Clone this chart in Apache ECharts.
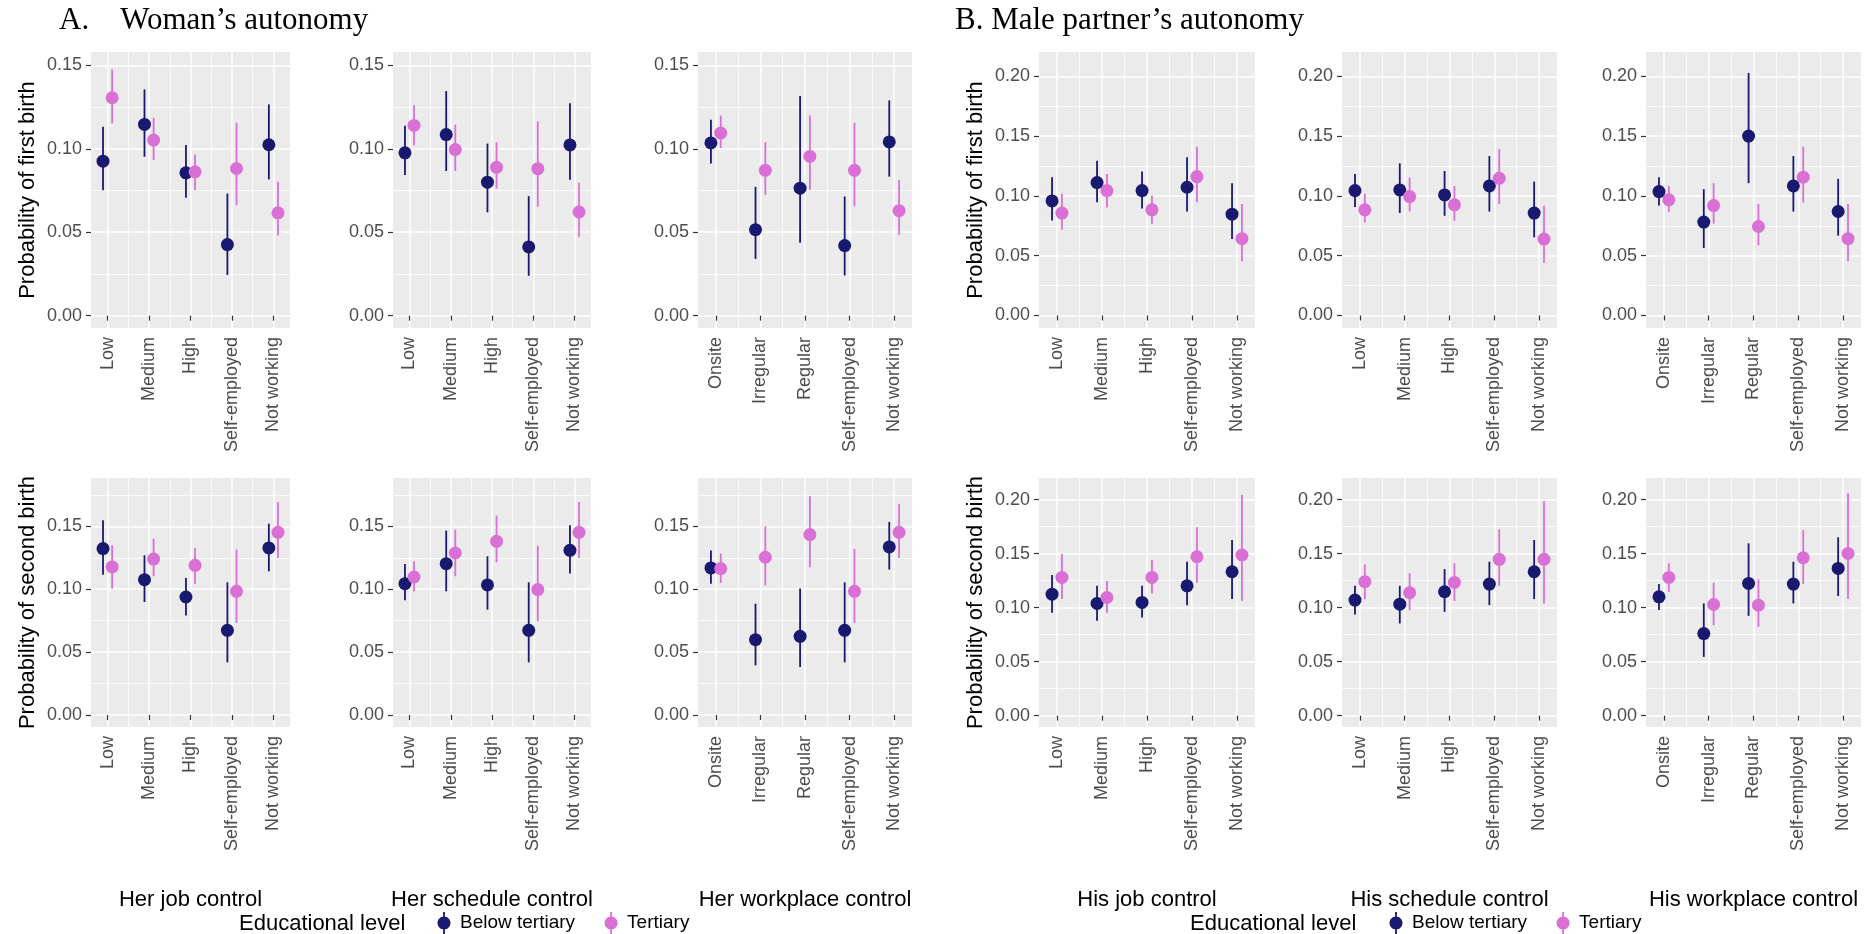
<!DOCTYPE html>
<html>
<head>
<meta charset="utf-8">
<script src="https://cdn.jsdelivr.net/npm/echarts@6/dist/echarts.min.js"></script>
<style>
  html, body { margin: 0; padding: 0; background: #fff; }
  #chart { width: 1876px; height: 934px; }
</style>
</head>
<body>
<div id="chart"></div>
<script>
// categories
const jobCats = ['Low', 'Medium', 'High', 'Self-employed', 'Not working'];
const placeCats = ['Onsite', 'Irregular', 'Regular', 'Self-employed', 'Not working'];
const yTicksA = [0, 0.05, 0.10, 0.15];
const yTicksB = [0, 0.05, 0.10, 0.15, 0.20];

// [estimate, lower, upper] per category
// first birth
const herJob1Below = [[0.0926, 0.0752, 0.1132], [0.1146, 0.0952, 0.1356], [0.0856, 0.0706, 0.1022], [0.0426, 0.0244, 0.0732], [0.1024, 0.0816, 0.1266]];
const herJob1Tert = [[0.1306, 0.1152, 0.1476], [0.1052, 0.0932, 0.1186], [0.0862, 0.0752, 0.0966], [0.0882, 0.0662, 0.1156], [0.0616, 0.048, 0.0802]];
const herSched1Below = [[0.0976, 0.0843, 0.1138], [0.1085, 0.0867, 0.1346], [0.080, 0.0619, 0.1031], [0.0412, 0.0239, 0.0716], [0.1023, 0.0815, 0.1273]];
const herSched1Tert = [[0.114, 0.1021, 0.1263], [0.0995, 0.0867, 0.1144], [0.0889, 0.0762, 0.1039], [0.0881, 0.0653, 0.1164], [0.0621, 0.0473, 0.0796]];
const herPlace1Below = [[0.1035, 0.0912, 0.1174], [0.0515, 0.034, 0.0772], [0.0764, 0.0437, 0.1316], [0.042, 0.0241, 0.0714], [0.1041, 0.0833, 0.129]];
const herPlace1Tert = [[0.1094, 0.1005, 0.1199], [0.0871, 0.0724, 0.1039], [0.0954, 0.0754, 0.1199], [0.0871, 0.0655, 0.1156], [0.0629, 0.0483, 0.0813]];
const hisJob1Below = [[0.0958, 0.0794, 0.1156], [0.1111, 0.0947, 0.1294], [0.1044, 0.0894, 0.1203], [0.1072, 0.0869, 0.1322], [0.0847, 0.0639, 0.1106]];
const hisJob1Tert = [[0.0856, 0.0717, 0.1017], [0.1044, 0.0903, 0.1183], [0.0883, 0.0767, 0.1003], [0.1161, 0.0947, 0.1411], [0.0642, 0.0453, 0.0931]];
const hisSched1Below = [[0.1044, 0.0906, 0.1183], [0.105, 0.0856, 0.1272], [0.1008, 0.0833, 0.1208], [0.1083, 0.0869, 0.1333], [0.0856, 0.0653, 0.1119]];
const hisSched1Tert = [[0.0883, 0.0778, 0.1017], [0.0994, 0.0869, 0.1153], [0.0925, 0.0792, 0.1083], [0.1147, 0.0931, 0.1392], [0.0639, 0.0439, 0.0917]];
const hisPlace1Below = [[0.1036, 0.0919, 0.1156], [0.0781, 0.0564, 0.1056], [0.15, 0.1106, 0.2028], [0.1083, 0.0869, 0.1333], [0.0869, 0.0667, 0.1142]];
const hisPlace1Tert = [[0.0967, 0.0867, 0.1083], [0.0919, 0.0767, 0.1106], [0.0744, 0.0586, 0.0931], [0.1156, 0.0944, 0.1411], [0.0642, 0.0453, 0.0931]];
// second birth
const herJob2Below = [[0.1323, 0.1116, 0.1548], [0.1076, 0.0898, 0.127], [0.0938, 0.0792, 0.1089], [0.0673, 0.0419, 0.1055], [0.1328, 0.1142, 0.1521]];
const herJob2Tert = [[0.1177, 0.1005, 0.1349], [0.124, 0.1103, 0.1402], [0.119, 0.1044, 0.1328], [0.0983, 0.0732, 0.1315], [0.1452, 0.1248, 0.1694]];
const herSched2Below = [[0.1044, 0.0912, 0.1201], [0.1203, 0.0983, 0.1466], [0.1034, 0.0838, 0.1262], [0.0673, 0.0419, 0.1055], [0.1309, 0.1124, 0.1508]];
const herSched2Tert = [[0.1097, 0.0983, 0.1222], [0.1288, 0.1103, 0.1474], [0.1381, 0.1214, 0.1585], [0.0997, 0.0745, 0.1346], [0.1452, 0.1248, 0.1694]];
const herPlace2Below = [[0.1169, 0.1044, 0.1307], [0.0599, 0.0395, 0.0885], [0.0626, 0.0382, 0.1005], [0.0673, 0.0419, 0.1055], [0.1336, 0.1156, 0.1535]];
const herPlace2Tert = [[0.1164, 0.105, 0.1283], [0.1254, 0.1031, 0.15], [0.1434, 0.1174, 0.1739], [0.0983, 0.0732, 0.132], [0.1452, 0.1248, 0.168]];
const hisJob2Below = [[0.1125, 0.0952, 0.1301], [0.1039, 0.0878, 0.1202], [0.1048, 0.0909, 0.1202], [0.1202, 0.1023, 0.1425], [0.1332, 0.1079, 0.1626]];
const hisJob2Tert = [[0.128, 0.1079, 0.1496], [0.1094, 0.0952, 0.1246], [0.128, 0.1131, 0.1441], [0.1471, 0.123, 0.1743], [0.1487, 0.1063, 0.2043]];
const hisSched2Below = [[0.107, 0.0937, 0.1202], [0.1032, 0.0853, 0.1202], [0.1147, 0.0961, 0.1357], [0.1218, 0.1023, 0.1425], [0.1332, 0.1079, 0.1626]];
const hisSched2Tert = [[0.124, 0.1079, 0.14], [0.1138, 0.0977, 0.1317], [0.1233, 0.1063, 0.141], [0.1447, 0.1202, 0.1725], [0.1447, 0.1039, 0.1988]];
const hisPlace2Below = [[0.11, 0.0977, 0.1218], [0.076, 0.0544, 0.1039], [0.1224, 0.0924, 0.1595], [0.1218, 0.1039, 0.1425], [0.1363, 0.1107, 0.1651]];
const hisPlace2Tert = [[0.128, 0.1147, 0.141], [0.1029, 0.0838, 0.123], [0.1023, 0.0822, 0.1261], [0.1462, 0.1218, 0.1719], [0.1502, 0.1079, 0.2059]];

const NAVY = '#191970';
const ORCHID = '#DA70D6';
const FONT = 'Liberation Sans';

// panel layout (px)
const colLeft = [91, 393, 698, 1039, 1342, 1646];
const colWidth = [199, 198, 214, 216, 215, 215];
const rowTop = [52, 478];
const rowHeight = [276, 249];

const panels = [
  { row: 0, col: 0, cats: jobCats, below: herJob1Below, tert: herJob1Tert, yr: [-0.0074, 0.158], ticks: yTicksA, yName: 'Probability of first birth' },
  { row: 0, col: 1, cats: jobCats, below: herSched1Below, tert: herSched1Tert, yr: [-0.0074, 0.158], ticks: yTicksA },
  { row: 0, col: 2, cats: placeCats, below: herPlace1Below, tert: herPlace1Tert, yr: [-0.0074, 0.158], ticks: yTicksA },
  { row: 0, col: 3, cats: jobCats, below: hisJob1Below, tert: hisJob1Tert, yr: [-0.0105, 0.2203], ticks: yTicksB, yName: 'Probability of first birth' },
  { row: 0, col: 4, cats: jobCats, below: hisSched1Below, tert: hisSched1Tert, yr: [-0.0105, 0.2203], ticks: yTicksB },
  { row: 0, col: 5, cats: placeCats, below: hisPlace1Below, tert: hisPlace1Tert, yr: [-0.0105, 0.2203], ticks: yTicksB },
  { row: 1, col: 0, cats: jobCats, below: herJob2Below, tert: herJob2Tert, yr: [-0.0095, 0.1884], ticks: yTicksA, yName: 'Probability of second birth', xName: 'Her job control' },
  { row: 1, col: 1, cats: jobCats, below: herSched2Below, tert: herSched2Tert, yr: [-0.0095, 0.1884], ticks: yTicksA, xName: 'Her schedule control' },
  { row: 1, col: 2, cats: placeCats, below: herPlace2Below, tert: herPlace2Tert, yr: [-0.0095, 0.1884], ticks: yTicksA, xName: 'Her workplace control' },
  { row: 1, col: 3, cats: jobCats, below: hisJob2Below, tert: hisJob2Tert, yr: [-0.0105, 0.22], ticks: yTicksB, yName: 'Probability of second birth', xName: 'His job control' },
  { row: 1, col: 4, cats: jobCats, below: hisSched2Below, tert: hisSched2Tert, yr: [-0.0105, 0.22], ticks: yTicksB, xName: 'His schedule control' },
  { row: 1, col: 5, cats: placeCats, below: hisPlace2Below, tert: hisPlace2Tert, yr: [-0.0105, 0.22], ticks: yTicksB, xName: 'His workplace control' }
];

const xMajor = [1, 2, 3, 4, 5];
const xMinor = [1.5, 2.5, 3.5, 4.5];
const DODGE = 0.11;

function minorOf(ticks, max) {
  const out = [];
  for (let i = 0; i < ticks.length; i++) {
    const m = ticks[i] + 0.025;
    if (m < max) out.push(m);
  }
  return out;
}

function makeRender(color) {
  return function (params, api) {
    const x = api.value(0);
    const p = api.coord([x, api.value(1)]);
    const lo = api.coord([x, api.value(2)]);
    const hi = api.coord([x, api.value(3)]);
    return {
      type: 'group',
      children: [
        { type: 'line', shape: { x1: lo[0], y1: lo[1], x2: hi[0], y2: hi[1] }, style: { stroke: color, lineWidth: 1.8 } },
        { type: 'circle', shape: { cx: p[0], cy: p[1], r: 6.5 }, style: { fill: color } }
      ]
    };
  };
}

const grids = [], xAxes = [], yAxes = [], series = [];
panels.forEach(function (pn, i) {
  grids.push({
    left: colLeft[pn.col], top: rowTop[pn.row], width: colWidth[pn.col], height: rowHeight[pn.row],
    show: true, backgroundColor: '#EBEBEB', borderWidth: 0
  });
  const cats = pn.cats;
  xAxes.push({
    type: 'value', gridIndex: i, min: 0.6, max: 5.4, position: 'bottom',
    axisLine: { show: false },
    axisTick: { show: true, customValues: xMajor, length: 5, lineStyle: { color: '#333', width: 1.2 } },
    axisLabel: { customValues: xMajor, rotate: 90, margin: 9, fontSize: 18, color: '#4D4D4D', fontFamily: FONT,
      formatter: function (v) { return cats[Math.round(v) - 1]; } },
    splitLine: { show: true, lineStyle: { color: '#fff', width: 1.5 } },
    name: pn.xName || '', nameLocation: 'middle', nameGap: 162,
    nameTextStyle: { fontSize: 22, color: '#000', fontFamily: FONT }
  });
  xAxes.push({
    type: 'value', gridIndex: i, min: 0.6, max: 5.4, position: 'top',
    axisLine: { show: false },
    axisTick: { show: false, customValues: xMinor },
    axisLabel: { show: false, customValues: xMinor },
    splitLine: { show: true, lineStyle: { color: '#fff', width: 0.8 } }
  });
  yAxes.push({
    type: 'value', gridIndex: i, min: pn.yr[0], max: pn.yr[1],
    axisLine: { show: false },
    axisTick: { show: true, customValues: pn.ticks, length: 5, lineStyle: { color: '#333', width: 1.2 } },
    axisLabel: { customValues: pn.ticks, margin: 9, fontSize: 18, color: '#4D4D4D', fontFamily: FONT,
      formatter: function (v) { return v.toFixed(2); } },
    splitLine: { show: true, lineStyle: { color: '#fff', width: 1.5 } },
    name: pn.yName || '', nameLocation: 'middle', nameGap: 52,
    nameTextStyle: { fontSize: 22, color: '#000', fontFamily: FONT }
  });
  const minors = minorOf(pn.ticks, pn.yr[1]);
  yAxes.push({
    type: 'value', gridIndex: i, min: pn.yr[0], max: pn.yr[1], position: 'right',
    axisLine: { show: false },
    axisTick: { show: false, customValues: minors },
    axisLabel: { show: false, customValues: minors },
    splitLine: { show: true, lineStyle: { color: '#fff', width: 0.8 } }
  });
  series.push({
    type: 'custom', name: 'Below tertiary', xAxisIndex: 2 * i, yAxisIndex: 2 * i,
    itemStyle: { color: NAVY },
    renderItem: makeRender(NAVY),
    data: pn.below.map(function (d, k) { return [k + 1 - DODGE, d[0], d[1], d[2]]; }),
    z: 5
  });
  series.push({
    type: 'custom', name: 'Tertiary', xAxisIndex: 2 * i, yAxisIndex: 2 * i,
    itemStyle: { color: ORCHID },
    renderItem: makeRender(ORCHID),
    data: pn.tert.map(function (d, k) { return [k + 1 + DODGE, d[0], d[1], d[2]]; }),
    z: 6
  });
});

// legend key: vertical line through a dot, inside a 22x22 box
const keyIcon = 'path://M0,0L0.01,0L0,0.01Z M22,22L21.99,22L22,21.99Z ' +
  'M4.5,11C4.5,7.41 7.41,4.5 11,4.5C14.59,4.5 17.5,7.41 17.5,11C17.5,14.59 14.59,17.5 11,17.5C7.41,17.5 4.5,14.59 4.5,11Z ' +
  'M10.1,0h1.8v22h-1.8z';
function legendAt(left) {
  return {
    left: left, top: 912, orient: 'horizontal', padding: 0,
    itemWidth: 22, itemHeight: 22, itemGap: 25,
    textStyle: { fontSize: 19, color: '#000', fontFamily: FONT },
    data: [{ name: 'Below tertiary', icon: keyIcon }, { name: 'Tertiary', icon: keyIcon }]
  };
}

const chart = echarts.init(document.getElementById('chart'));
chart.setOption({
  animation: false,
  backgroundColor: '#fff',
  textStyle: { fontFamily: FONT },
  title: [
    { text: 'A.    Woman\u2019s autonomy', left: 59, top: 5, padding: 0,
      textStyle: { fontFamily: 'Liberation Serif', fontSize: 31, fontWeight: 'normal', color: '#000' } },
    { text: 'B. Male partner\u2019s autonomy', left: 955, top: 5, padding: 0,
      textStyle: { fontFamily: 'Liberation Serif', fontSize: 31, fontWeight: 'normal', color: '#000' } }
  ],
  legend: [legendAt(433), legendAt(1385)],
  graphic: [
    { type: 'text', left: 239, top: 913, style: { text: 'Educational level', fontSize: 22, fill: '#000', fontFamily: FONT } },
    { type: 'text', left: 1190, top: 913, style: { text: 'Educational level', fontSize: 22, fill: '#000', fontFamily: FONT } }
  ],
  grid: grids,
  xAxis: xAxes,
  yAxis: yAxes,
  series: series
});
</script>
</body>
</html>
